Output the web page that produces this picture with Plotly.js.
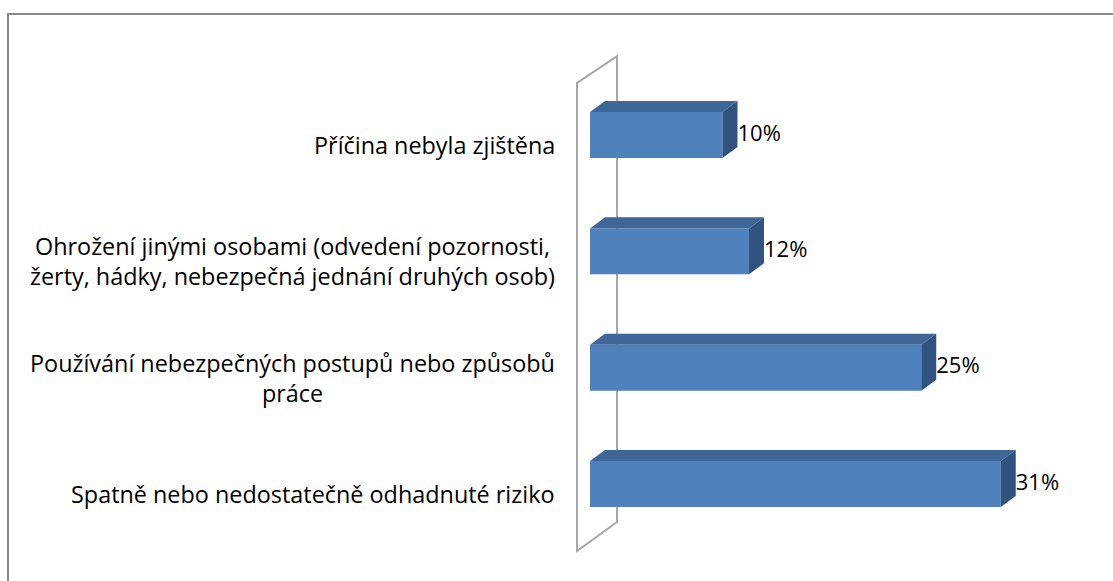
<!DOCTYPE html>
<html>
<head>
<meta charset="utf-8">
<script src="https://cdn.plot.ly/plotly-3.0.1.min.js"></script>
<style>
  html, body { margin: 0; padding: 0; background: #fff; }
  #chart { width: 1113px; height: 581px; }
  #frame { position: absolute; left: 7px; top: 13px; width: 1120px; height: 600px;
           border-left: 2px solid #8a8a8a; border-top: 2px solid #8a8a8a; pointer-events: none; }
</style>
</head>
<body>
<div id="chart"></div>
<div id="frame"></div>
<script>
// Data (bottom to top)
const categories = [
  "Spatně nebo nedostatečně odhadnuté riziko",
  "Používání nebezpečných postupů nebo způsobů<br>práce",
  "Ohrožení jinými osobami (odvedení pozornosti,<br>žerty, hádky, nebezpečná jednání druhých osob)",
  "Příčina nebyla zjištěna"
];
const values = [31, 25, 12, 10];
const valueLabels = ["31%", "25%", "12%", "10%"];

// 3D look parameters (axis units)
const barWidth = 0.395;
const depthX = 1.13;
const depthY = 0.095;

const frontColor = "#4F81BD";
const topColor = "#3E6798";
const sideColor = "#30547F";

const pos = categories.map((_, i) => i);

const traces = [];
traces.push({
  type: "bar", orientation: "h",
  x: values, y: pos, width: barWidth,
  marker: { color: frontColor, line: { width: 0 } },
  hoverinfo: "skip", showlegend: false
});
values.forEach((v, i) => {
  const yt = i + barWidth / 2, yb = i - barWidth / 2;
  traces.push({
    type: "scatter", mode: "lines", fill: "toself",
    x: [0, v, v + depthX, depthX, 0],
    y: [yt, yt, yt + depthY, yt + depthY, yt],
    line: { width: 0, color: topColor }, fillcolor: topColor,
    hoverinfo: "skip", showlegend: false
  });
  traces.push({
    type: "scatter", mode: "lines", fill: "toself",
    x: [v, v + depthX, v + depthX, v, v],
    y: [yt, yt + depthY, yb + depthY, yb, yt],
    line: { width: 0, color: sideColor }, fillcolor: sideColor,
    hoverinfo: "skip", showlegend: false
  });
});
traces.push({
  type: "scatter", mode: "text",
  x: values.map(v => v + depthX), y: pos,
  text: valueLabels, textposition: "middle right",
  textfont: { family: "'Open Sans', sans-serif", size: 22, color: "#000" },
  hoverinfo: "skip", showlegend: false, cliponaxis: false
});

const annotations = categories.map((c, i) => ({
  x: -0.006, xref: "paper", y: i, yref: "y",
  text: c, showarrow: false, xanchor: "right", yanchor: "middle",
  align: "center", yshift: -10,
  font: { family: "'Open Sans', sans-serif", size: 23.4, color: "#000" }
}));

const wall = {
  type: "path", xref: "x", yref: "y", layer: "below",
  path: "M -0.98 -0.576 L -0.98 3.447 L 2.04 3.679 L 2.04 -0.326 Z",
  line: { color: "#a6a6a6", width: 2 }, fillcolor: "rgba(0,0,0,0)"
};

const layout = {
  width: 1113, height: 581,
  margin: { l: 560, r: 20, t: 40, b: 21 },
  paper_bgcolor: "#fff", plot_bgcolor: "rgba(0,0,0,0)",
  xaxis: { range: [-2.264, 37.96], visible: false, fixedrange: true },
  yaxis: { range: [-0.653, 3.817], visible: false, fixedrange: true },
  shapes: [wall],
  annotations: annotations,
  showlegend: false
};

Plotly.newPlot("chart", traces, layout, { staticPlot: true });
</script>
</body>
</html>
